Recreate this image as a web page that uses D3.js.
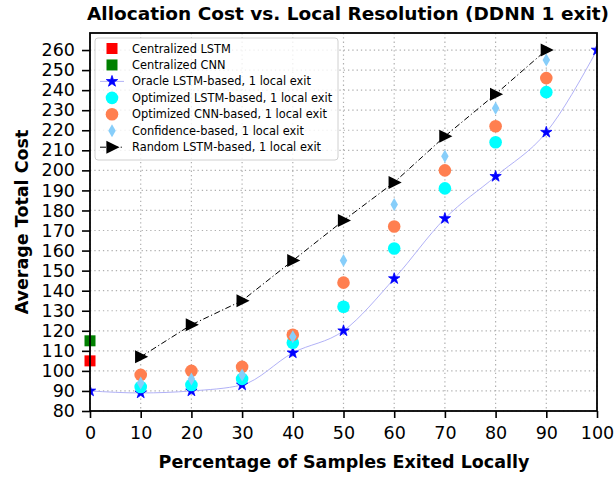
<!DOCTYPE html>
<html>
<head>
<meta charset="utf-8">
<script src="https://cdn.jsdelivr.net/npm/d3@7"></script>
<style>
  body { margin: 0; background: #fff; }
  svg { display: block; font-family: "DejaVu Sans", sans-serif; }
</style>
</head>
<body>
<svg id="chart" width="616" height="477"></svg>
<script>
// Percentage of samples exited locally
const exitPct = [0, 10, 20, 30, 40, 50, 60, 70, 80, 90, 100];
const midPct = [10, 20, 30, 40, 50, 60, 70, 80, 90];

// Average total cost per strategy
const centralizedLSTM = [105];
const centralizedCNN = [115];
const oracleLSTM = [90, 89, 90, 93, 109, 120, 146, 176, 197, 219, 260];
const optimizedLSTM = [92, 93, 96, 114, 132, 161, 191, 214, 239];
const optimizedCNN = [98, 100, 102, 118, 144, 172, 200, 222, 246];
const confidence = [94, 96, 98, 117, 155, 183, 207, 231, 255];
const randomLSTM = [107, 123, 135, 155, 175, 194, 217, 238, 260];

const xTicks = [0, 10, 20, 30, 40, 50, 60, 70, 80, 90, 100];
const yTicks = d3.range(80, 261, 10);

const svg = d3.select("#chart");
const pLeft = 90, pRight = 597, pTop = 33, pBottom = 411;

const x = d3.scaleLinear().domain([0, 100]).range([pLeft, pRight]);
const y = d3.scaleLinear().domain([80, 268.5]).range([pBottom, pTop]);

// grid
const grid = svg.append("g").attr("stroke", "#b0b0b0").attr("stroke-width", 1.2)
  .attr("stroke-dasharray", "1.3,3");
grid.selectAll(".gx").data(xTicks).join("line")
  .attr("x1", d => x(d)).attr("x2", d => x(d)).attr("y1", pTop).attr("y2", pBottom);
grid.selectAll(".gy").data(yTicks).join("line")
  .attr("x1", pLeft).attr("x2", pRight).attr("y1", d => y(d)).attr("y2", d => y(d));

svg.append("clipPath").attr("id", "plotclip").append("rect")
  .attr("x", pLeft).attr("y", pTop).attr("width", pRight - pLeft).attr("height", pBottom - pTop);

const plot = svg.append("g");

// marker helpers
const star = d3.symbol().type(d3.symbolStar).size(40);
const circle = r => d3.symbol().type(d3.symbolCircle).size(Math.PI * r * r);
function diamondPath(w, h) {
  return `M0,${-h / 2}L${w / 2},0L0,${h / 2}L${-w / 2},0Z`;
}
function triPath(s) {
  return `M${s * 0.6},0L${-s * 0.45},${-s * 0.52}L${-s * 0.45},${s * 0.52}Z`;
}
const DIA_W = 7.5, DIA_H = 13, TRI = 12.5, CR = 6.3;

// centralized baselines
plot.selectAll(".cl").data(centralizedLSTM).join("rect")
  .attr("x", x(0) - 5.5).attr("y", d => y(d) - 5.5).attr("width", 11).attr("height", 11)
  .attr("fill", "#ff0000");
plot.selectAll(".cc").data(centralizedCNN).join("rect")
  .attr("x", x(0) - 5.5).attr("y", d => y(d) - 5.5).attr("width", 11).attr("height", 11)
  .attr("fill", "#008000");

// oracle line + stars
const oracleLine = d3.line().x((d, i) => x(exitPct[i])).y(d => y(d)).curve(d3.curveMonotoneX);
plot.append("path").attr("d", oracleLine(oracleLSTM))
  .attr("fill", "none").attr("stroke", "#a8a8f5").attr("stroke-width", 0.9);
plot.append("g").attr("clip-path", "url(#plotclip)")
  .selectAll("path").data(oracleLSTM).join("path")
  .attr("d", star).attr("transform", (d, i) => `translate(${x(exitPct[i])},${y(d)})`)
  .attr("fill", "#0000ff").attr("stroke", "#0000ff").attr("stroke-width", 0.8);

// optimized LSTM
plot.selectAll(".ol").data(optimizedLSTM).join("path")
  .attr("d", circle(CR)).attr("transform", (d, i) => `translate(${x(midPct[i])},${y(d)})`)
  .attr("fill", "#00ffff");
// optimized CNN
plot.selectAll(".oc").data(optimizedCNN).join("path")
  .attr("d", circle(CR)).attr("transform", (d, i) => `translate(${x(midPct[i])},${y(d)})`)
  .attr("fill", "#ff7f50");
// confidence
plot.selectAll(".cf").data(confidence).join("path")
  .attr("d", diamondPath(DIA_W, DIA_H)).attr("transform", (d, i) => `translate(${x(midPct[i])},${y(d)})`)
  .attr("fill", "#87cefa");
// random
const randLine = d3.line().x((d, i) => x(midPct[i])).y(d => y(d));
plot.append("path").attr("d", randLine(randomLSTM))
  .attr("fill", "none").attr("stroke", "#000").attr("stroke-width", 1)
  .attr("stroke-dasharray", "6,2.5,1.2,2.5");
plot.selectAll(".rd").data(randomLSTM).join("path")
  .attr("d", triPath(TRI)).attr("transform", (d, i) => `translate(${x(midPct[i])},${y(d)})`)
  .attr("fill", "#000");

// axes
const xAxis = d3.axisBottom(x).tickValues(xTicks).tickSize(7).tickPadding(9);
const yAxis = d3.axisLeft(y).tickValues(yTicks).tickSize(8).tickPadding(7);
const gx = svg.append("g").attr("transform", `translate(0,${pBottom})`).call(xAxis);
const gy = svg.append("g").attr("transform", `translate(${pLeft},0)`).call(yAxis);
[gx, gy].forEach(g => {
  g.select(".domain").remove();
  g.selectAll("line").attr("stroke", "#000").attr("stroke-width", 1.6);
  g.selectAll("text").attr("font-size", 17.5).attr("fill", "#000")
    .attr("font-family", "DejaVu Sans");
});

// frame
svg.append("rect").attr("x", pLeft).attr("y", pTop).attr("width", pRight - pLeft)
  .attr("height", pBottom - pTop).attr("fill", "none").attr("stroke", "#000").attr("stroke-width", 1.8);

// titles
svg.append("text").attr("x", 348).attr("y", 20).attr("text-anchor", "middle")
  .attr("font-size", 18.5).attr("font-weight", "bold").text("Allocation Cost vs. Local Resolution (DDNN 1 exit)");
svg.append("text").attr("x", 344).attr("y", 468).attr("text-anchor", "middle")
  .attr("font-size", 17.5).attr("font-weight", "bold").text("Percentage of Samples Exited Locally");
svg.append("text").attr("transform", `translate(28,${(pTop + pBottom) / 2}) rotate(-90)`)
  .attr("text-anchor", "middle").attr("font-size", 17.5).attr("font-weight", "bold")
  .text("Average Total Cost");

// legend
const legendItems = [
  { label: "Centralized LSTM", kind: "square", color: "#ff0000" },
  { label: "Centralized CNN", kind: "square", color: "#008000" },
  { label: "Oracle LSTM-based, 1 local exit", kind: "star", color: "#0000ff" },
  { label: "Optimized LSTM-based, 1 local exit", kind: "circle", color: "#00ffff" },
  { label: "Optimized CNN-based, 1 local exit", kind: "circle", color: "#ff7f50" },
  { label: "Confidence-based, 1 local exit", kind: "diamond", color: "#87cefa" },
  { label: "Random LSTM-based, 1 local exit", kind: "tri", color: "#000" }
];
const lg = svg.append("g").attr("transform", "translate(95,38)");
lg.append("rect").attr("x", 0).attr("y", 0).attr("width", 243).attr("height", 122)
  .attr("rx", 3).attr("fill", "#fff").attr("fill-opacity", 0.8)
  .attr("stroke", "#d0d0d0").attr("stroke-width", 1);
legendItems.forEach((it, i) => {
  const cy = 10.5 + i * 16.45, cx = 17;
  const g = lg.append("g");
  if (it.kind === "square") {
    g.append("rect").attr("x", cx - 5.5).attr("y", cy - 5.5).attr("width", 11).attr("height", 11).attr("fill", it.color);
  } else if (it.kind === "star") {
    g.append("line").attr("x1", cx - 12).attr("x2", cx + 12).attr("y1", cy).attr("y2", cy)
      .attr("stroke", "#a8a8f5").attr("stroke-width", 0.9);
    g.append("path").attr("d", star).attr("transform", `translate(${cx},${cy})`)
      .attr("fill", it.color).attr("stroke", it.color).attr("stroke-width", 0.8);
  } else if (it.kind === "circle") {
    g.append("path").attr("d", circle(CR)).attr("transform", `translate(${cx},${cy})`).attr("fill", it.color);
  } else if (it.kind === "diamond") {
    g.append("path").attr("d", diamondPath(DIA_W, DIA_H)).attr("transform", `translate(${cx},${cy})`).attr("fill", it.color);
  } else {
    g.append("line").attr("x1", cx - 12).attr("x2", cx + 12).attr("y1", cy).attr("y2", cy)
      .attr("stroke", "#000").attr("stroke-width", 1).attr("stroke-dasharray", "6,2.5,1.2,2.5");
    g.append("path").attr("d", triPath(TRI)).attr("transform", `translate(${cx},${cy})`).attr("fill", "#000");
  }
  g.append("text").attr("x", 37).attr("y", cy + 4).attr("font-size", 11.4).attr("fill", "#000").text(it.label);
});
</script>
</body>
</html>
